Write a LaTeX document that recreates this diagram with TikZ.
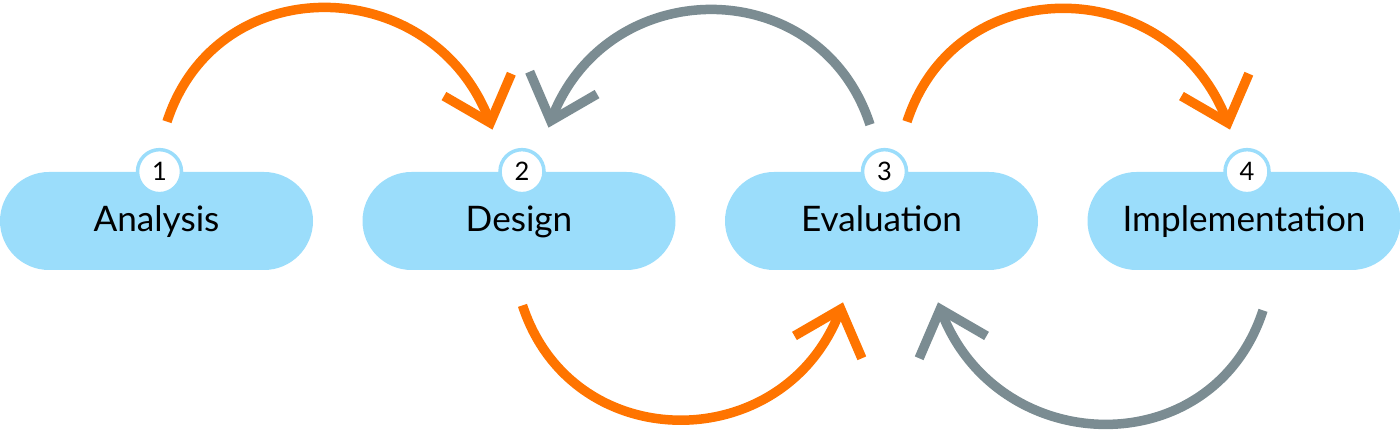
\documentclass[tikz,border=0pt]{standalone}
\usepackage{fontspec}
\setmainfont{Lato}
\usetikzlibrary{arrows.meta,bending}
\definecolor{boxblue}{RGB}{155,221,251}
\definecolor{fwdorange}{RGB}{255,116,0}
\definecolor{backgray}{RGB}{123,140,146}
\tikzstyle{phase} = [rectangle, rounded corners=0.98cm, minimum width=6.26cm, minimum height=1.96cm, text centered, text height=0.48cm, text depth=0.06cm, fill=boxblue, font=\fontsize{20}{24}\selectfont]
\tikzstyle{badge} = [circle, minimum size=0.88cm, inner sep=0pt, fill=white, draw=boxblue, line width=0.07cm, font=\fontsize{14.5}{17}\selectfont]
\tikzstyle{forward} = [line width=0.19cm, draw=fwdorange, -{Straight Barb[length=0.8cm, width=1.42cm]}]
\tikzstyle{backward} = [line width=0.19cm, draw=backgray, -{Straight Barb[length=0.8cm, width=1.42cm]}]

\begin{document}
\begin{tikzpicture}[node distance = 7.25cm]
\useasboundingbox (0,0) rectangle (28,8.64);

\node(analysis) [phase] at (3.13,4.22) {Analysis};
\node(design) [phase, right of = analysis] {Design};
\node(evaluation) [phase, right of = design] {Evaluation};
\node(implementation) [phase, right of = evaluation] {Implementation};

\node(num1) [badge] at ([xshift=0.06cm]analysis.north) {1};
\node(num2) [badge] at ([xshift=0.06cm]design.north) {2};
\node(num3) [badge] at ([xshift=0.06cm]evaluation.north) {3};
\node(num4) [badge] at ([xshift=0.06cm]implementation.north) {4};

\coordinate(anaout) at ([xshift=0.21cm, yshift=1cm]analysis.north);
\coordinate(desin) at ([xshift=-0.53cm, yshift=0.84cm]design.north);
\coordinate(desback) at ([xshift=0.59cm, yshift=0.88cm]design.north);
\coordinate(desout) at ([xshift=0.07cm, yshift=-0.7cm]design.south);
\coordinate(evaltop) at ([xshift=-0.23cm, yshift=0.94cm]evaluation.north);
\coordinate(evalout) at ([xshift=0.51cm, yshift=1cm]evaluation.north);
\coordinate(evalin) at ([xshift=-0.77cm, yshift=-0.64cm]evaluation.south);
\coordinate(evalback) at ([xshift=1.13cm, yshift=-0.64cm]evaluation.south);
\coordinate(impin) at ([xshift=-0.28cm, yshift=0.84cm]implementation.north);
\coordinate(impout) at ([xshift=0.38cm, yshift=-0.8cm]implementation.south);

\draw [forward] (anaout) to[out=72, in=108, looseness=1.3] (desin);
\draw [backward] (evaltop) to[out=108, in=72, looseness=1.3] (desback);
\draw [forward] (evalout) to[out=72, in=108, looseness=1.3] (impin);
\draw [forward] (desout) to[out=-72, in=-108, looseness=1.3] (evalin);
\draw [backward] (impout) to[out=-108, in=-72, looseness=1.3] (evalback);

\end{tikzpicture}
\end{document}
